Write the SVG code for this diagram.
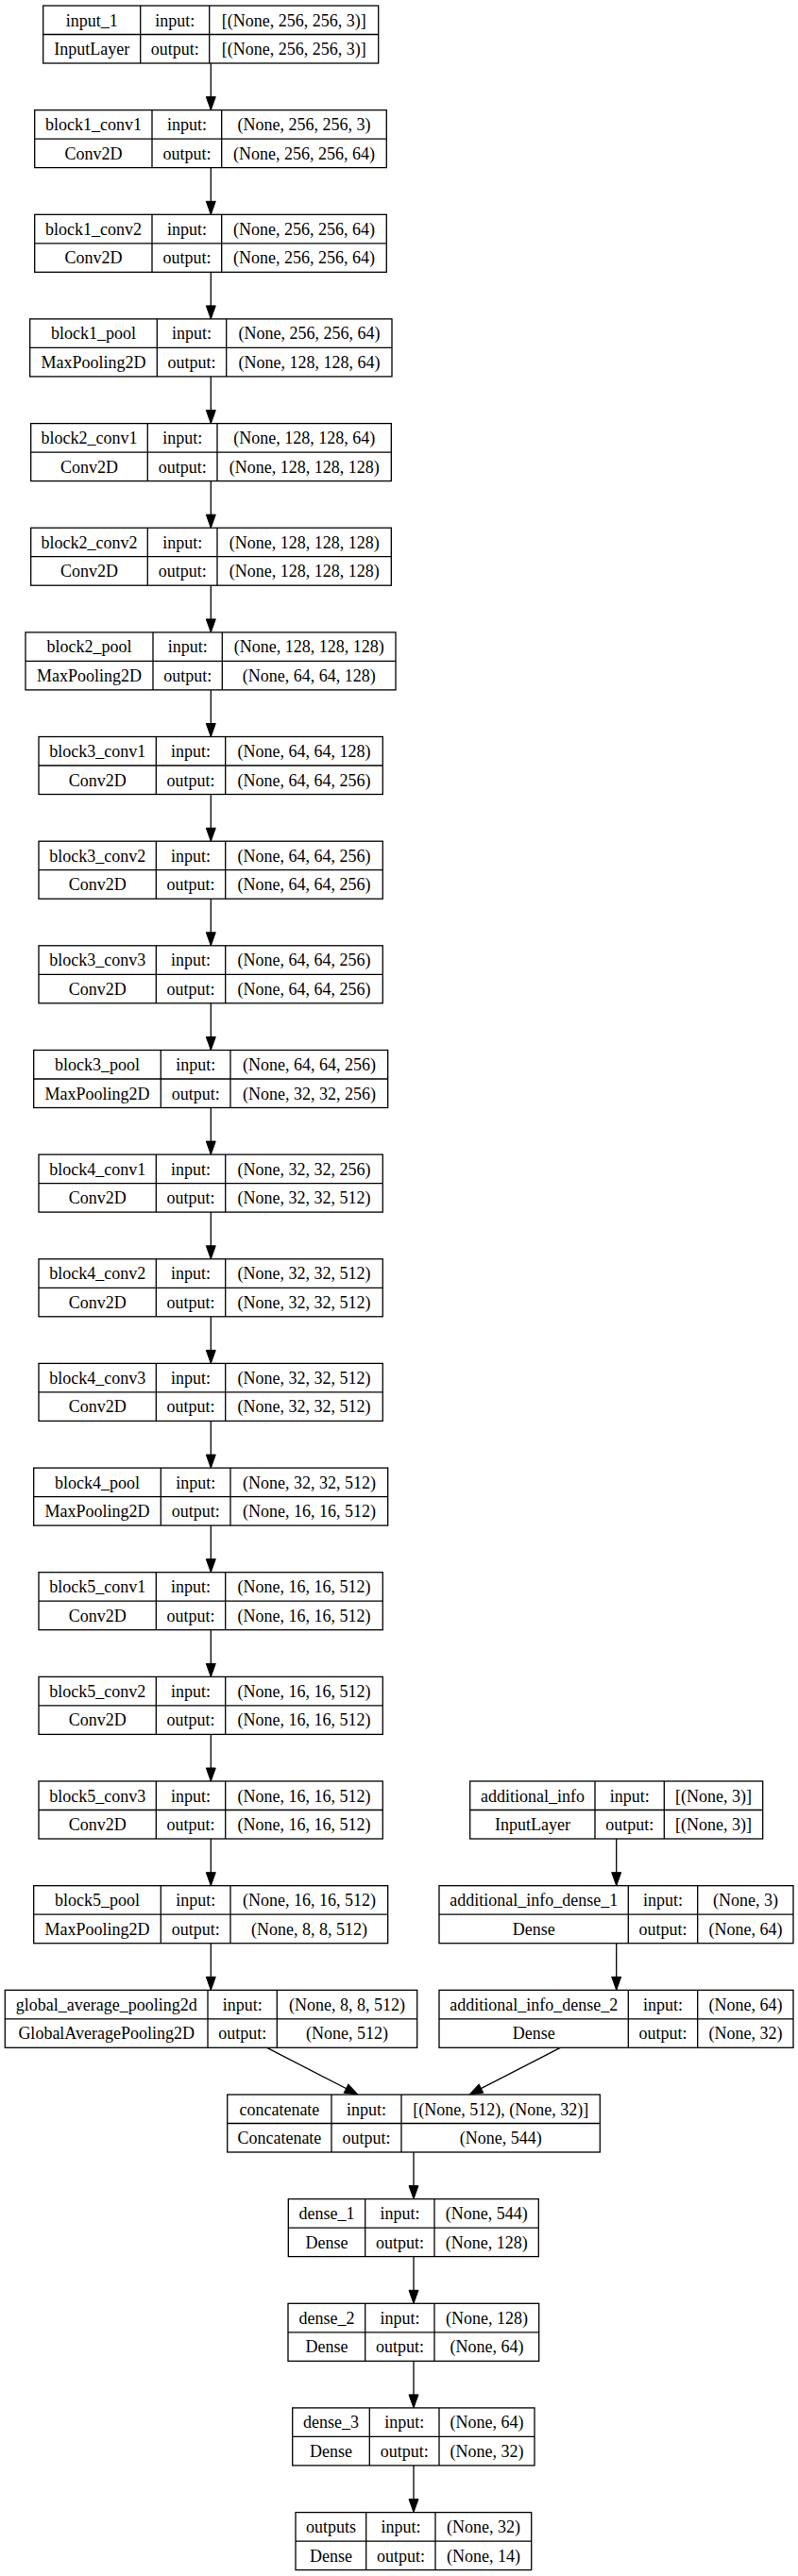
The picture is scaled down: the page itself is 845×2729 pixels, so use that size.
<svg xmlns="http://www.w3.org/2000/svg" width="845" height="2729" viewBox="0 0 845 2729">
<style>
.box{fill:#fff;stroke:#000;stroke-width:1.3}
.div{stroke:#000;stroke-width:1.3}
text{font-family:"Liberation Serif","Times New Roman",serif;font-size:18px;text-anchor:middle;fill:#000}
.edge{stroke:#000;stroke-width:1.3;fill:none;marker-end:url(#ah)}
</style>
<defs>
<marker id="ah" markerUnits="userSpaceOnUse" markerWidth="15" markerHeight="11" refX="14" refY="5" orient="auto" overflow="visible">
<path d="M0,0 L14,5 L0,10 Z" fill="#000" stroke="#000" stroke-width="1"/>
</marker>
</defs>
<rect width="845" height="2729" fill="#fff"/>
<g id="connectors">
<line class="edge" x1="223.3" y1="67" x2="223.3" y2="116.6"/>
<line class="edge" x1="223.3" y1="177.6" x2="223.3" y2="227.3"/>
<line class="edge" x1="223.3" y1="288.3" x2="223.3" y2="337.9"/>
<line class="edge" x1="223.3" y1="398.9" x2="223.3" y2="448.6"/>
<line class="edge" x1="223.3" y1="509.6" x2="223.3" y2="559.2"/>
<line class="edge" x1="223.3" y1="620.2" x2="223.3" y2="669.9"/>
<line class="edge" x1="223.3" y1="730.9" x2="223.3" y2="780.5"/>
<line class="edge" x1="223.3" y1="841.5" x2="223.3" y2="891.2"/>
<line class="edge" x1="223.3" y1="952.2" x2="223.3" y2="1001.8"/>
<line class="edge" x1="223.3" y1="1062.8" x2="223.3" y2="1112.5"/>
<line class="edge" x1="223.3" y1="1173.5" x2="223.3" y2="1223.1"/>
<line class="edge" x1="223.3" y1="1284.1" x2="223.3" y2="1333.8"/>
<line class="edge" x1="223.3" y1="1394.8" x2="223.3" y2="1444.4"/>
<line class="edge" x1="223.3" y1="1505.4" x2="223.3" y2="1555.1"/>
<line class="edge" x1="223.3" y1="1616.1" x2="223.3" y2="1665.7"/>
<line class="edge" x1="223.3" y1="1726.7" x2="223.3" y2="1776.4"/>
<line class="edge" x1="223.3" y1="1837.4" x2="223.3" y2="1887"/>
<line class="edge" x1="223.3" y1="1948" x2="223.3" y2="1997.7"/>
<line class="edge" x1="223.3" y1="2058.7" x2="223.3" y2="2108.3"/>
<line class="edge" x1="652.7" y1="1948" x2="652.7" y2="1997.7"/>
<line class="edge" x1="652.7" y1="2058.7" x2="652.7" y2="2108.3"/>
<line class="edge" x1="282.7" y1="2169.3" x2="379" y2="2219"/>
<line class="edge" x1="593.3" y1="2169.3" x2="497" y2="2219"/>
<line class="edge" x1="438" y1="2280" x2="438" y2="2329.6"/>
<line class="edge" x1="438" y1="2390.6" x2="438" y2="2440.3"/>
<line class="edge" x1="438" y1="2501.3" x2="438" y2="2550.9"/>
<line class="edge" x1="438" y1="2611.9" x2="438" y2="2661.6"/>
</g>
<g id="input_1">
<rect class="box" x="45.7" y="6" width="355" height="61"/>
<line class="div" x1="45.7" y1="36.5" x2="400.7" y2="36.5"/>
<line class="div" x1="148.7" y1="6" x2="148.7" y2="67"/>
<line class="div" x1="221.7" y1="6" x2="221.7" y2="67"/>
<text x="97.2" y="27.5">input_1</text><text x="97.2" y="58">InputLayer</text>
<text x="185.2" y="27.5">input:</text><text x="185.2" y="58">output:</text>
<text x="311.2" y="27.5">[(None, 256, 256, 3)]</text><text x="311.2" y="58">[(None, 256, 256, 3)]</text>
</g>
<g id="block1_conv1">
<rect class="box" x="36.7" y="116.6" width="372.6" height="61"/>
<line class="div" x1="36.7" y1="147.1" x2="409.3" y2="147.1"/>
<line class="div" x1="161" y1="116.6" x2="161" y2="177.6"/>
<line class="div" x1="234.7" y1="116.6" x2="234.7" y2="177.6"/>
<text x="98.9" y="138.1">block1_conv1</text><text x="98.9" y="168.6">Conv2D</text>
<text x="197.9" y="138.1">input:</text><text x="197.9" y="168.6">output:</text>
<text x="322" y="138.1">(None, 256, 256, 3)</text><text x="322" y="168.6">(None, 256, 256, 64)</text>
</g>
<g id="block1_conv2">
<rect class="box" x="36.7" y="227.3" width="372.6" height="61"/>
<line class="div" x1="36.7" y1="257.8" x2="409.3" y2="257.8"/>
<line class="div" x1="161" y1="227.3" x2="161" y2="288.3"/>
<line class="div" x1="234.7" y1="227.3" x2="234.7" y2="288.3"/>
<text x="98.9" y="248.8">block1_conv2</text><text x="98.9" y="279.3">Conv2D</text>
<text x="197.9" y="248.8">input:</text><text x="197.9" y="279.3">output:</text>
<text x="322" y="248.8">(None, 256, 256, 64)</text><text x="322" y="279.3">(None, 256, 256, 64)</text>
</g>
<g id="block1_pool">
<rect class="box" x="31.7" y="337.9" width="383.3" height="61"/>
<line class="div" x1="31.7" y1="368.4" x2="415" y2="368.4"/>
<line class="div" x1="166.3" y1="337.9" x2="166.3" y2="398.9"/>
<line class="div" x1="239.7" y1="337.9" x2="239.7" y2="398.9"/>
<text x="99" y="359.4">block1_pool</text><text x="99" y="389.9">MaxPooling2D</text>
<text x="203" y="359.4">input:</text><text x="203" y="389.9">output:</text>
<text x="327.4" y="359.4">(None, 256, 256, 64)</text><text x="327.4" y="389.9">(None, 128, 128, 64)</text>
</g>
<g id="block2_conv1">
<rect class="box" x="32.7" y="448.6" width="381.6" height="61"/>
<line class="div" x1="32.7" y1="479.1" x2="414.3" y2="479.1"/>
<line class="div" x1="156.3" y1="448.6" x2="156.3" y2="509.6"/>
<line class="div" x1="230" y1="448.6" x2="230" y2="509.6"/>
<text x="94.5" y="470.1">block2_conv1</text><text x="94.5" y="500.6">Conv2D</text>
<text x="193.2" y="470.1">input:</text><text x="193.2" y="500.6">output:</text>
<text x="322.2" y="470.1">(None, 128, 128, 64)</text><text x="322.2" y="500.6">(None, 128, 128, 128)</text>
</g>
<g id="block2_conv2">
<rect class="box" x="32.7" y="559.2" width="381.6" height="61"/>
<line class="div" x1="32.7" y1="589.7" x2="414.3" y2="589.7"/>
<line class="div" x1="156.3" y1="559.2" x2="156.3" y2="620.2"/>
<line class="div" x1="230" y1="559.2" x2="230" y2="620.2"/>
<text x="94.5" y="580.7">block2_conv2</text><text x="94.5" y="611.2">Conv2D</text>
<text x="193.2" y="580.7">input:</text><text x="193.2" y="611.2">output:</text>
<text x="322.2" y="580.7">(None, 128, 128, 128)</text><text x="322.2" y="611.2">(None, 128, 128, 128)</text>
</g>
<g id="block2_pool">
<rect class="box" x="27" y="669.9" width="392" height="61"/>
<line class="div" x1="27" y1="700.4" x2="419" y2="700.4"/>
<line class="div" x1="162" y1="669.9" x2="162" y2="730.9"/>
<line class="div" x1="235.3" y1="669.9" x2="235.3" y2="730.9"/>
<text x="94.5" y="691.4">block2_pool</text><text x="94.5" y="721.9">MaxPooling2D</text>
<text x="198.7" y="691.4">input:</text><text x="198.7" y="721.9">output:</text>
<text x="327.2" y="691.4">(None, 128, 128, 128)</text><text x="327.2" y="721.9">(None, 64, 64, 128)</text>
</g>
<g id="block3_conv1">
<rect class="box" x="41" y="780.5" width="364.3" height="61"/>
<line class="div" x1="41" y1="811" x2="405.3" y2="811"/>
<line class="div" x1="165.3" y1="780.5" x2="165.3" y2="841.5"/>
<line class="div" x1="238.7" y1="780.5" x2="238.7" y2="841.5"/>
<text x="103.2" y="802">block3_conv1</text><text x="103.2" y="832.5">Conv2D</text>
<text x="202" y="802">input:</text><text x="202" y="832.5">output:</text>
<text x="322" y="802">(None, 64, 64, 128)</text><text x="322" y="832.5">(None, 64, 64, 256)</text>
</g>
<g id="block3_conv2">
<rect class="box" x="41" y="891.2" width="364.3" height="61"/>
<line class="div" x1="41" y1="921.7" x2="405.3" y2="921.7"/>
<line class="div" x1="165.3" y1="891.2" x2="165.3" y2="952.2"/>
<line class="div" x1="238.7" y1="891.2" x2="238.7" y2="952.2"/>
<text x="103.2" y="912.7">block3_conv2</text><text x="103.2" y="943.2">Conv2D</text>
<text x="202" y="912.7">input:</text><text x="202" y="943.2">output:</text>
<text x="322" y="912.7">(None, 64, 64, 256)</text><text x="322" y="943.2">(None, 64, 64, 256)</text>
</g>
<g id="block3_conv3">
<rect class="box" x="41" y="1001.8" width="364.3" height="61"/>
<line class="div" x1="41" y1="1032.3" x2="405.3" y2="1032.3"/>
<line class="div" x1="165.3" y1="1001.8" x2="165.3" y2="1062.8"/>
<line class="div" x1="238.7" y1="1001.8" x2="238.7" y2="1062.8"/>
<text x="103.2" y="1023.3">block3_conv3</text><text x="103.2" y="1053.8">Conv2D</text>
<text x="202" y="1023.3">input:</text><text x="202" y="1053.8">output:</text>
<text x="322" y="1023.3">(None, 64, 64, 256)</text><text x="322" y="1053.8">(None, 64, 64, 256)</text>
</g>
<g id="block3_pool">
<rect class="box" x="35.7" y="1112.5" width="375" height="61"/>
<line class="div" x1="35.7" y1="1143" x2="410.7" y2="1143"/>
<line class="div" x1="170.3" y1="1112.5" x2="170.3" y2="1173.5"/>
<line class="div" x1="244" y1="1112.5" x2="244" y2="1173.5"/>
<text x="103" y="1134">block3_pool</text><text x="103" y="1164.5">MaxPooling2D</text>
<text x="207.2" y="1134">input:</text><text x="207.2" y="1164.5">output:</text>
<text x="327.4" y="1134">(None, 64, 64, 256)</text><text x="327.4" y="1164.5">(None, 32, 32, 256)</text>
</g>
<g id="block4_conv1">
<rect class="box" x="41" y="1223.1" width="364.3" height="61"/>
<line class="div" x1="41" y1="1253.6" x2="405.3" y2="1253.6"/>
<line class="div" x1="165.3" y1="1223.1" x2="165.3" y2="1284.1"/>
<line class="div" x1="238.7" y1="1223.1" x2="238.7" y2="1284.1"/>
<text x="103.2" y="1244.6">block4_conv1</text><text x="103.2" y="1275.1">Conv2D</text>
<text x="202" y="1244.6">input:</text><text x="202" y="1275.1">output:</text>
<text x="322" y="1244.6">(None, 32, 32, 256)</text><text x="322" y="1275.1">(None, 32, 32, 512)</text>
</g>
<g id="block4_conv2">
<rect class="box" x="41" y="1333.8" width="364.3" height="61"/>
<line class="div" x1="41" y1="1364.3" x2="405.3" y2="1364.3"/>
<line class="div" x1="165.3" y1="1333.8" x2="165.3" y2="1394.8"/>
<line class="div" x1="238.7" y1="1333.8" x2="238.7" y2="1394.8"/>
<text x="103.2" y="1355.3">block4_conv2</text><text x="103.2" y="1385.8">Conv2D</text>
<text x="202" y="1355.3">input:</text><text x="202" y="1385.8">output:</text>
<text x="322" y="1355.3">(None, 32, 32, 512)</text><text x="322" y="1385.8">(None, 32, 32, 512)</text>
</g>
<g id="block4_conv3">
<rect class="box" x="41" y="1444.4" width="364.3" height="61"/>
<line class="div" x1="41" y1="1474.9" x2="405.3" y2="1474.9"/>
<line class="div" x1="165.3" y1="1444.4" x2="165.3" y2="1505.4"/>
<line class="div" x1="238.7" y1="1444.4" x2="238.7" y2="1505.4"/>
<text x="103.2" y="1465.9">block4_conv3</text><text x="103.2" y="1496.4">Conv2D</text>
<text x="202" y="1465.9">input:</text><text x="202" y="1496.4">output:</text>
<text x="322" y="1465.9">(None, 32, 32, 512)</text><text x="322" y="1496.4">(None, 32, 32, 512)</text>
</g>
<g id="block4_pool">
<rect class="box" x="35.7" y="1555.1" width="375" height="61"/>
<line class="div" x1="35.7" y1="1585.6" x2="410.7" y2="1585.6"/>
<line class="div" x1="170.3" y1="1555.1" x2="170.3" y2="1616.1"/>
<line class="div" x1="244" y1="1555.1" x2="244" y2="1616.1"/>
<text x="103" y="1576.6">block4_pool</text><text x="103" y="1607.1">MaxPooling2D</text>
<text x="207.2" y="1576.6">input:</text><text x="207.2" y="1607.1">output:</text>
<text x="327.4" y="1576.6">(None, 32, 32, 512)</text><text x="327.4" y="1607.1">(None, 16, 16, 512)</text>
</g>
<g id="block5_conv1">
<rect class="box" x="41" y="1665.7" width="364.3" height="61"/>
<line class="div" x1="41" y1="1696.2" x2="405.3" y2="1696.2"/>
<line class="div" x1="165.3" y1="1665.7" x2="165.3" y2="1726.7"/>
<line class="div" x1="238.7" y1="1665.7" x2="238.7" y2="1726.7"/>
<text x="103.2" y="1687.2">block5_conv1</text><text x="103.2" y="1717.7">Conv2D</text>
<text x="202" y="1687.2">input:</text><text x="202" y="1717.7">output:</text>
<text x="322" y="1687.2">(None, 16, 16, 512)</text><text x="322" y="1717.7">(None, 16, 16, 512)</text>
</g>
<g id="block5_conv2">
<rect class="box" x="41" y="1776.4" width="364.3" height="61"/>
<line class="div" x1="41" y1="1806.9" x2="405.3" y2="1806.9"/>
<line class="div" x1="165.3" y1="1776.4" x2="165.3" y2="1837.4"/>
<line class="div" x1="238.7" y1="1776.4" x2="238.7" y2="1837.4"/>
<text x="103.2" y="1797.9">block5_conv2</text><text x="103.2" y="1828.4">Conv2D</text>
<text x="202" y="1797.9">input:</text><text x="202" y="1828.4">output:</text>
<text x="322" y="1797.9">(None, 16, 16, 512)</text><text x="322" y="1828.4">(None, 16, 16, 512)</text>
</g>
<g id="block5_conv3">
<rect class="box" x="41" y="1887" width="364.3" height="61"/>
<line class="div" x1="41" y1="1917.5" x2="405.3" y2="1917.5"/>
<line class="div" x1="165.3" y1="1887" x2="165.3" y2="1948"/>
<line class="div" x1="238.7" y1="1887" x2="238.7" y2="1948"/>
<text x="103.2" y="1908.5">block5_conv3</text><text x="103.2" y="1939">Conv2D</text>
<text x="202" y="1908.5">input:</text><text x="202" y="1939">output:</text>
<text x="322" y="1908.5">(None, 16, 16, 512)</text><text x="322" y="1939">(None, 16, 16, 512)</text>
</g>
<g id="block5_pool">
<rect class="box" x="35.7" y="1997.7" width="375" height="61"/>
<line class="div" x1="35.7" y1="2028.2" x2="410.7" y2="2028.2"/>
<line class="div" x1="170.3" y1="1997.7" x2="170.3" y2="2058.7"/>
<line class="div" x1="244" y1="1997.7" x2="244" y2="2058.7"/>
<text x="103" y="2019.2">block5_pool</text><text x="103" y="2049.7">MaxPooling2D</text>
<text x="207.2" y="2019.2">input:</text><text x="207.2" y="2049.7">output:</text>
<text x="327.4" y="2019.2">(None, 16, 16, 512)</text><text x="327.4" y="2049.7">(None, 8, 8, 512)</text>
</g>
<g id="global_average_pooling2d">
<rect class="box" x="5.3" y="2108.3" width="436.4" height="61"/>
<line class="div" x1="5.3" y1="2138.8" x2="441.7" y2="2138.8"/>
<line class="div" x1="220" y1="2108.3" x2="220" y2="2169.3"/>
<line class="div" x1="293.3" y1="2108.3" x2="293.3" y2="2169.3"/>
<text x="112.7" y="2129.8">global_average_pooling2d</text><text x="112.7" y="2160.3">GlobalAveragePooling2D</text>
<text x="256.7" y="2129.8">input:</text><text x="256.7" y="2160.3">output:</text>
<text x="367.5" y="2129.8">(None, 8, 8, 512)</text><text x="367.5" y="2160.3">(None, 512)</text>
</g>
<g id="additional_info">
<rect class="box" x="497.7" y="1887" width="310" height="61"/>
<line class="div" x1="497.7" y1="1917.5" x2="807.7" y2="1917.5"/>
<line class="div" x1="630" y1="1887" x2="630" y2="1948"/>
<line class="div" x1="703.3" y1="1887" x2="703.3" y2="1948"/>
<text x="563.9" y="1908.5">additional_info</text><text x="563.9" y="1939">InputLayer</text>
<text x="666.7" y="1908.5">input:</text><text x="666.7" y="1939">output:</text>
<text x="755.5" y="1908.5">[(None, 3)]</text><text x="755.5" y="1939">[(None, 3)]</text>
</g>
<g id="additional_info_dense_1">
<rect class="box" x="465" y="1997.7" width="375" height="61"/>
<line class="div" x1="465" y1="2028.2" x2="840" y2="2028.2"/>
<line class="div" x1="665.3" y1="1997.7" x2="665.3" y2="2058.7"/>
<line class="div" x1="738.7" y1="1997.7" x2="738.7" y2="2058.7"/>
<text x="565.2" y="2019.2">additional_info_dense_1</text><text x="565.2" y="2049.7">Dense</text>
<text x="702" y="2019.2">input:</text><text x="702" y="2049.7">output:</text>
<text x="789.4" y="2019.2">(None, 3)</text><text x="789.4" y="2049.7">(None, 64)</text>
</g>
<g id="additional_info_dense_2">
<rect class="box" x="465" y="2108.3" width="375" height="61"/>
<line class="div" x1="465" y1="2138.8" x2="840" y2="2138.8"/>
<line class="div" x1="665.3" y1="2108.3" x2="665.3" y2="2169.3"/>
<line class="div" x1="738.7" y1="2108.3" x2="738.7" y2="2169.3"/>
<text x="565.2" y="2129.8">additional_info_dense_2</text><text x="565.2" y="2160.3">Dense</text>
<text x="702" y="2129.8">input:</text><text x="702" y="2160.3">output:</text>
<text x="789.4" y="2129.8">(None, 64)</text><text x="789.4" y="2160.3">(None, 32)</text>
</g>
<g id="concatenate">
<rect class="box" x="240.7" y="2219" width="394.6" height="61"/>
<line class="div" x1="240.7" y1="2249.5" x2="635.3" y2="2249.5"/>
<line class="div" x1="351" y1="2219" x2="351" y2="2280"/>
<line class="div" x1="425" y1="2219" x2="425" y2="2280"/>
<text x="295.9" y="2240.5">concatenate</text><text x="295.9" y="2271">Concatenate</text>
<text x="388" y="2240.5">input:</text><text x="388" y="2271">output:</text>
<text x="530.2" y="2240.5">[(None, 512), (None, 32)]</text><text x="530.2" y="2271">(None, 544)</text>
</g>
<g id="dense_1">
<rect class="box" x="305.3" y="2329.6" width="265" height="61"/>
<line class="div" x1="305.3" y1="2360.1" x2="570.3" y2="2360.1"/>
<line class="div" x1="386.7" y1="2329.6" x2="386.7" y2="2390.6"/>
<line class="div" x1="460" y1="2329.6" x2="460" y2="2390.6"/>
<text x="346" y="2351.1">dense_1</text><text x="346" y="2381.6">Dense</text>
<text x="423.4" y="2351.1">input:</text><text x="423.4" y="2381.6">output:</text>
<text x="515.2" y="2351.1">(None, 544)</text><text x="515.2" y="2381.6">(None, 128)</text>
</g>
<g id="dense_2">
<rect class="box" x="305" y="2440.3" width="265.7" height="61"/>
<line class="div" x1="305" y1="2470.8" x2="570.7" y2="2470.8"/>
<line class="div" x1="386.7" y1="2440.3" x2="386.7" y2="2501.3"/>
<line class="div" x1="460" y1="2440.3" x2="460" y2="2501.3"/>
<text x="345.9" y="2461.8">dense_2</text><text x="345.9" y="2492.3">Dense</text>
<text x="423.4" y="2461.8">input:</text><text x="423.4" y="2492.3">output:</text>
<text x="515.4" y="2461.8">(None, 128)</text><text x="515.4" y="2492.3">(None, 64)</text>
</g>
<g id="dense_3">
<rect class="box" x="309.7" y="2550.9" width="256.3" height="61"/>
<line class="div" x1="309.7" y1="2581.4" x2="566" y2="2581.4"/>
<line class="div" x1="391.3" y1="2550.9" x2="391.3" y2="2611.9"/>
<line class="div" x1="465" y1="2550.9" x2="465" y2="2611.9"/>
<text x="350.5" y="2572.4">dense_3</text><text x="350.5" y="2602.9">Dense</text>
<text x="428.2" y="2572.4">input:</text><text x="428.2" y="2602.9">output:</text>
<text x="515.5" y="2572.4">(None, 64)</text><text x="515.5" y="2602.9">(None, 32)</text>
</g>
<g id="outputs">
<rect class="box" x="313" y="2661.6" width="249.7" height="61"/>
<line class="div" x1="313" y1="2692.1" x2="562.7" y2="2692.1"/>
<line class="div" x1="387.7" y1="2661.6" x2="387.7" y2="2722.6"/>
<line class="div" x1="461" y1="2661.6" x2="461" y2="2722.6"/>
<text x="350.4" y="2683.1">outputs</text><text x="350.4" y="2713.6">Dense</text>
<text x="424.4" y="2683.1">input:</text><text x="424.4" y="2713.6">output:</text>
<text x="511.9" y="2683.1">(None, 32)</text><text x="511.9" y="2713.6">(None, 14)</text>
</g>
</svg>
